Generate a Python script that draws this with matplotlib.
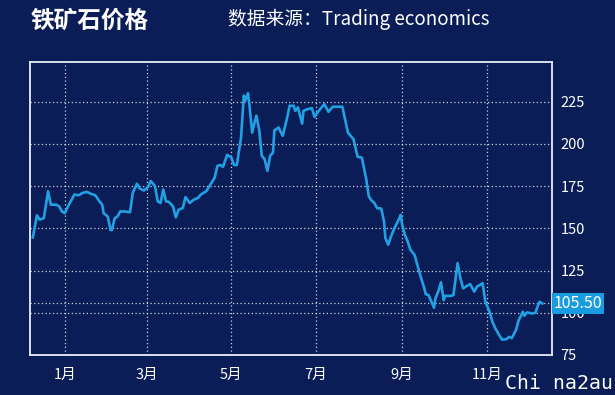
import pandas as pd
import numpy as np
import matplotlib.pyplot as plt
import matplotlib.dates as mdates

# --- dados (dias a partir de 2021-01-01, preço em US$/t) ---
dias = [-23, -20, -18, -15, -12, -10, -6, -4, -2, 0, 3, 7, 10, 13, 16, 19, 22, 25, 27, 28,
        31, 33, 34, 36, 38, 40, 43, 47, 49, 52, 54, 57, 60, 62, 65, 67, 69, 71, 73, 75,
        78, 80, 82, 85, 87, 90, 93, 96, 98, 102, 105, 108, 110, 112, 114, 117, 120, 122, 124, 127,
        129, 130, 132, 133, 135, 138, 140, 142, 144, 146, 148, 150, 151, 154, 157, 160, 162, 165, 166, 168,
        171, 172, 175, 178, 180, 183, 187, 190, 193, 196, 200, 204, 206, 208, 211, 214, 217, 219, 221, 223,
        225, 228, 230, 231, 233, 235, 237, 240, 242, 243, 245, 247, 249, 252, 254, 256, 259, 260, 262, 266,
        267, 269, 271, 273, 274, 278, 280, 283, 285, 287, 290, 292, 295, 297, 301, 303, 306, 308, 310, 313,
        315, 318, 320, 322, 325, 327, 330, 331, 333, 337, 339, 341, 342, 344]
precos = [144.6, 157.7, 155.1, 156.1, 172.0, 164.0, 164.0, 163.0, 160.0, 159.0, 164.0, 170.0, 169.6, 171.0, 171.6, 170.4, 169.6, 166.0, 164.0, 159.0,
          157.0, 149.0, 149.0, 156.0, 157.0, 160.0, 160.0, 159.5, 171.0, 176.4, 173.6, 172.4, 174.4, 178.0, 175.0, 166.0, 165.0, 173.0, 166.0, 165.7,
          163.0, 156.5, 161.0, 162.0, 168.5, 165.0, 167.0, 168.0, 170.0, 172.0, 176.0, 180.0, 187.0, 187.5, 186.4, 193.5, 192.0, 187.5, 187.5, 203.8,
          228.6, 225.6, 230.0, 223.6, 206.7, 216.7, 208.7, 192.9, 190.9, 184.0, 193.0, 194.8, 208.0, 209.7, 204.8, 214.7, 222.6, 222.6, 219.6, 221.6,
          212.0, 219.6, 220.6, 221.2, 216.0, 219.6, 223.6, 219.0, 222.0, 222.0, 222.0, 206.7, 204.8, 202.8, 192.3, 191.9, 180.0, 169.0, 166.5, 165.0,
          162.0, 161.7, 154.0, 144.2, 140.3, 145.2, 149.2, 154.2, 158.0, 152.2, 146.2, 142.3, 137.3, 134.3, 128.4, 122.4, 114.5, 111.0, 110.5, 103.0,
          108.5, 112.5, 118.0, 107.5, 110.0, 110.0, 110.5, 129.4, 120.4, 114.5, 116.0, 117.0, 112.5, 115.5, 117.5, 106.5, 100.6, 94.7, 91.0, 86.7,
          84.1, 84.3, 85.7, 85.0, 89.7, 95.6, 100.6, 98.2, 100.2, 99.6, 100.0, 104.6, 106.5, 105.5]
ultimo = 105.50

datas = pd.Timestamp("2021-01-01") + pd.to_timedelta(dias, unit="D")

yticks = [75, 100, 125, 150, 175, 200, 225]
xticks = pd.to_datetime(["2021-01-01", "2021-03-01", "2021-05-01", "2021-07-01", "2021-09-01", "2021-11-01"])
xlabels = ["1月", "3月", "5月", "7月", "9月", "11月"]

fundo = "#0a1d57"
azul = "#22a0e4"
fonte = ["Noto Sans CJK SC", "DejaVu Sans"]
plt.rcParams['font.family'] = fonte

fig = plt.figure(figsize=(6.15, 3.95), dpi=100, facecolor=fundo)
ax = fig.add_axes([0.0488, 0.1013, 0.8488, 0.7417], facecolor=fundo)

ax.plot(datas, precos, color=azul, lw=1.9, solid_joinstyle='round')

ax.set_xlim(pd.Timestamp("2020-12-07"), pd.Timestamp("2021-12-18"))
ax.set_ylim(75, 248.5)

ax.set_xticks(xticks)
ax.set_xticklabels(xlabels)
ax.set_yticks(yticks)
ax.yaxis.tick_right()
ax.tick_params(axis='both', length=0, colors='white', labelsize=10.5)
ax.tick_params(axis='y', pad=6)
ax.tick_params(axis='x', pad=9)

# grelha pontilhada
for y in yticks[1:]:
    ax.axhline(y, color='white', lw=0.9, ls=(0, (1, 2)), alpha=0.8, zorder=0)
ax.axhline(ultimo, color='white', lw=0.9, ls=(0, (1, 2)), alpha=0.8, zorder=0)
for x in xticks:
    ax.axvline(x, color='white', lw=0.9, ls=(0, (1, 2)), alpha=0.8, zorder=0)

for s in ax.spines.values():
    s.set_color('#e8eefc')
    s.set_linewidth(1.3)

# etiqueta do último valor (tapa parte do "100", como no original)
ax.text(1.003, ultimo, f"{ultimo:.2f}", transform=ax.get_yaxis_transform(),
        ha='left', va='center', color='white', fontsize=11.5,
        bbox=dict(boxstyle='square,pad=0.1', fc='#1a9be0', ec='none'), zorder=5, clip_on=False)

# títulos
fig.text(0.049, 0.948, "铁矿石价格", color='white', fontsize=17, fontweight='bold', va='center')
fig.text(0.371, 0.951, "数据来源：Trading economics", color='white', fontsize=13.5, va='center')

# marca d'água
fig.text(0.997, 0.03, "Chi na2au", color='white', fontsize=14.3, ha='right', va='center',
         family=['DejaVu Sans Mono'])

fig.savefig("out.png", dpi=100, facecolor=fundo)
